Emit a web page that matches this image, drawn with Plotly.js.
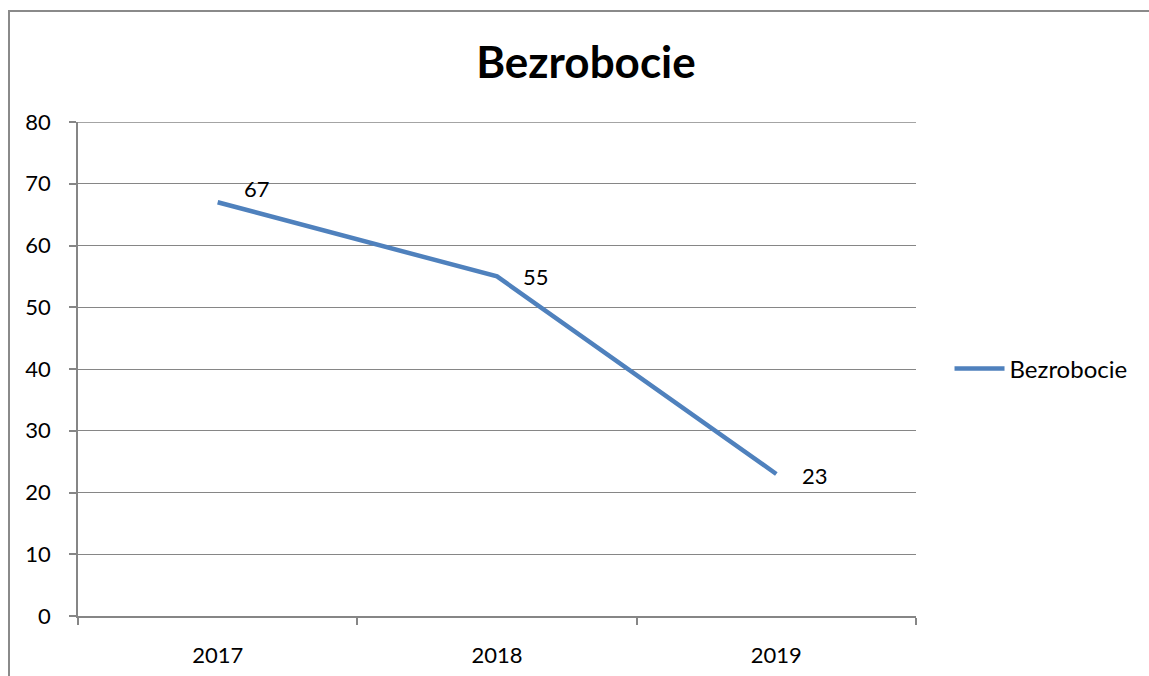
<!DOCTYPE html>
<html>
<head>
<meta charset="utf-8">
<script src="https://cdn.plot.ly/plotly-3.0.1.min.js"></script>
<style>
html,body{margin:0;padding:0;background:#fff;overflow:hidden;width:1149px;height:676px;}
#chart{position:absolute;left:0;top:0;width:1149px;height:676px;}
#hline{position:absolute;left:8px;top:10px;width:1141px;height:2px;background:#8a8a8a;pointer-events:none;}
#vline{position:absolute;left:8px;top:10px;width:2px;height:666px;background:#8a8a8a;pointer-events:none;}
</style>
</head>
<body>
<div id="chart"></div>
<div id="hline"></div>
<div id="vline"></div>
<script>
const categories = ["2017", "2018", "2019"];
const values = [67, 55, 23];
const labelYShift = [14, 0, -2];
const seriesName = "Bezrobocie";
const yTicks = [0, 10, 20, 30, 40, 50, 60, 70, 80];

const font = "Lato, 'Open Sans', sans-serif";

const trace = {
  x: categories,
  y: values,
  type: "scatter",
  mode: "lines",
  name: seriesName,
  line: {color: "#4F81BD", width: 4.5},
  hoverinfo: "x+y"
};

const annotations = categories.map((c, i) => ({
  x: i, y: values[i], xref: "x", yref: "y",
  text: String(values[i]), showarrow: false,
  xanchor: "left", yanchor: "middle",
  xshift: 24, yshift: labelYShift[i],
  font: {family: font, size: 22, color: "#000000"}
}));

const yMax = yTicks[yTicks.length - 1];

const layout = {
  width: 1149, height: 676,
  paper_bgcolor: "#fff", plot_bgcolor: "#fff",
  margin: {l: 78, r: 233, t: 122, b: 60, pad: 0},
  title: {text: "<b>Bezrobocie</b>", x: 0.51, xanchor: "center", y: 0.908, yanchor: "middle",
          font: {family: font, size: 44, color: "#000"}},
  showlegend: true,
  legend: {x: 1.04, xanchor: "left", y: 0.5, yanchor: "middle",
           font: {family: font, size: 24, color: "#000"}, itemwidth: 50, bgcolor: "rgba(0,0,0,0)"},
  xaxis: {
    type: "category", range: [-0.5, 2.5], tickson: "boundaries",
    ticks: "outside", ticklen: 7, tickwidth: 1.5, tickcolor: "#868686",
    showgrid: false, showline: true, linecolor: "#868686", linewidth: 1.5,
    tickfont: {family: font, size: 22, color: "#000"}, ticklabelstandoff: 19,
    zeroline: false, fixedrange: true
  },
  yaxis: {
    range: [0, yMax], tickvals: yTicks, ticktext: yTicks.map(String),
    ticks: "outside", ticklen: 7, tickwidth: 1.5, tickcolor: "#868686",
    showgrid: true, gridcolor: "#868686", gridwidth: 1.3,
    showline: true, linecolor: "#868686", linewidth: 1.5,
    tickfont: {family: font, size: 22, color: "#000"}, ticklabelstandoff: 14,
    zeroline: false, fixedrange: true
  },
  shapes: [{type: "line", xref: "paper", yref: "y", x0: 0, x1: 1, y0: yMax, y1: yMax,
            line: {color: "#868686", width: 1.3}, layer: "below"}],
  annotations: annotations
};

Plotly.newPlot("chart", [trace], layout, {displayModeBar: false});
</script>
</body>
</html>
